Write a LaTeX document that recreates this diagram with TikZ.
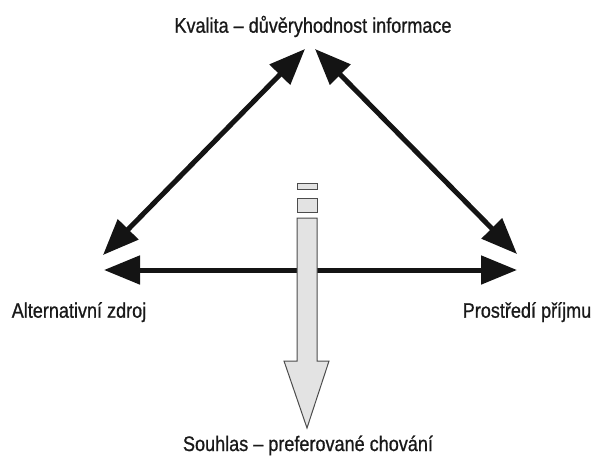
\documentclass[tikz,border=0pt]{standalone}
\usepackage{fontspec}
\setmainfont[FakeStretch=0.86,FakeBold=0.8]{Liberation Sans}
\usetikzlibrary{arrows.meta}
\begin{document}
\begin{tikzpicture}[x=1pt,y=-1pt,
  lbl/.style={font=\fontsize{21}{24}\selectfont, inner sep=0pt, anchor=base, text=black!90},
  thick arrow/.style={line width=5pt, draw=black!92, {Triangle[length=36pt,width=28pt]}-{Triangle[length=36pt,width=28pt]}},
  big arrow/.style={fill=black!11, draw=black!70, line width=1pt, line join=miter},
  barbox/.style={fill=black!11, draw=black!70, line width=1pt}]
\useasboundingbox (0,0) rectangle (594,455);
% labels
\node[lbl] (top) at (313,32.7) {Kvalita – důvěryhodnost informace};
\node[lbl] (left) at (79,317.7) {Alternativní zdroj};
\node[lbl] (right) at (527,317.7) {Prostředí příjmu};
\node[lbl] (bottom) at (308,451) {Souhlas – preferované chování};
% arrow end points
\coordinate (lt) at (305,49);
\coordinate (lb) at (103,255);
\coordinate (rt) at (315,49);
\coordinate (rb) at (517,254);
\coordinate (hl) at (104,270);
\coordinate (hr) at (517,270);
% double arrows
\draw[thick arrow] (lb) -- (lt);
\draw[thick arrow] (rt) -- (rb);
\draw[thick arrow] (hl) -- (hr);
% central downward arrow
\draw[barbox] (297,183) rectangle (317,189);
\draw[barbox] (297,198) rectangle (317,212);
\draw[big arrow] (297,218) -- (317,218) -- (317,361) -- (329,361) -- (307,428) -- (284,361) -- (297,361) -- cycle;
\end{tikzpicture}
\end{document}
